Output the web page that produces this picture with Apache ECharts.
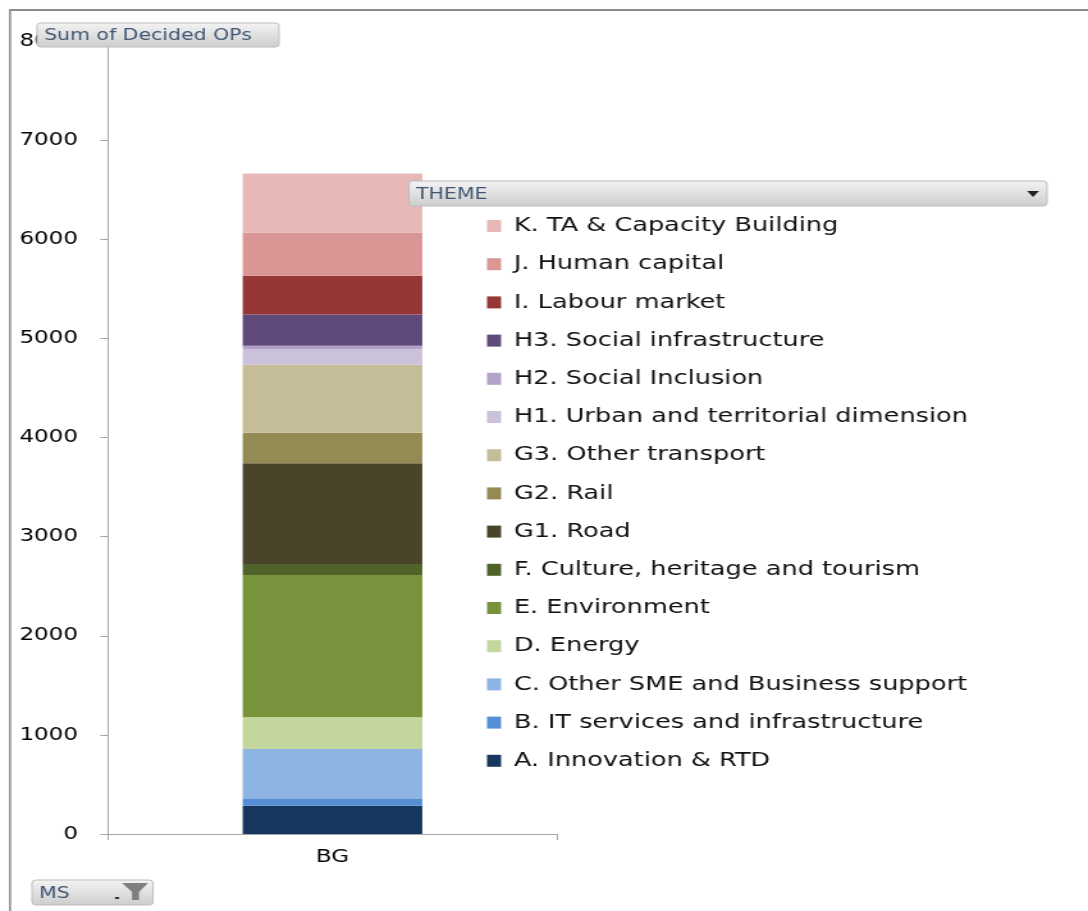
<!DOCTYPE html>
<html><head><meta charset="utf-8">
<script src="https://cdn.jsdelivr.net/npm/echarts@6/dist/echarts.min.js"></script>
<style>html,body{margin:0;padding:0;background:#fff;overflow:hidden}
#c{width:850px;height:911px;transform:scaleX(1.28);transform-origin:0 0}</style>
</head><body><div id="c"></div>
<script>
const categories = ['BG'];
const themes = [
  'A. Innovation & RTD',
  'B. IT services and infrastructure',
  'C. Other SME and Business support',
  'D. Energy',
  'E. Environment',
  'F. Culture, heritage and tourism',
  'G1. Road',
  'G2. Rail',
  'G3. Other transport',
  'H1. Urban and territorial dimension',
  'H2. Social Inclusion',
  'H3. Social infrastructure',
  'I. Labour market',
  'J. Human capital',
  'K. TA & Capacity Building'
];
const values = [285, 68, 504, 320, 1436, 110, 1016, 309, 686, 158, 34, 316, 390, 437, 595];
const colors = ['#17375E','#558ED5','#8DB4E2','#C3D69B','#77933C','#4F6228','#4A452A','#948A54','#C4BD97','#CCC1DA','#B3A2C7','#604A7B','#953735','#D99694','#E6B9B8'];
const yTicks = {min: 0, max: 8000, interval: 1000};

const S = 1.28; // horizontal stretch of the whole picture
const X = v => v / S;
const FONT = 'DejaVu Sans';
const btnFill = {type:'linear',x:0,y:0,x2:0,y2:1,colorStops:[{offset:0,color:'#F4F4F4'},{offset:1,color:'#CDCDCD'}]};
function button(x,y,w,h,label){
  return [
    {type:'rect', z:100, shape:{x:X(x),y:y,width:X(w),height:h,r:3}, style:{fill:btnFill, stroke:'#BDBDBD', lineWidth:1}},
    {type:'text', z:101, style:{x:X(x+7),y:y+h/2+1,text:label,fill:'#3F5673',font:'16px "'+FONT+'"',textVerticalAlign:'middle'}}
  ];
}
const chart = echarts.init(document.getElementById('c'));
const series = themes.map((t,i)=>({
  name:t, type:'bar', stack:'total', barWidth:'40%',
  itemStyle:{color:colors[i]},
  data:[values[i]]
}));
chart.setOption({
  animation:false,
  backgroundColor:'#fff',
  color: colors,
  grid:{left:X(108), top:41, right:850 - X(557), bottom:77, containLabel:false},
  xAxis:{type:'category', data:categories,
    axisLine:{lineStyle:{color:'#A6A6A6'}},
    axisTick:{show:true, length:6, lineStyle:{color:'#A6A6A6'}},
    axisLabel:{color:'#000', fontFamily:FONT, fontSize:18, margin:14}},
  yAxis:{type:'value', min:yTicks.min, max:yTicks.max, interval:yTicks.interval,
    axisLine:{show:true, lineStyle:{color:'#A6A6A6'}},
    axisTick:{show:true, length:6, lineStyle:{color:'#A6A6A6'}},
    splitLine:{show:false},
    axisLabel:{color:'#000', fontFamily:FONT, fontSize:18, margin:X(30), formatter: v => String(v)}},
  legend:{orient:'vertical', left:X(487), top:216, padding:0, itemWidth:11, itemHeight:12, itemGap:18.2,
    icon:'rect', data: themes.slice().reverse(),
    textStyle:{color:'#111', fontFamily:FONT, fontSize:20, lineHeight:20, padding:[0,0,0,5]}},
  series: series,
  graphic: [
    {type:'line', z:90, shape:{x1:X(10),y1:9,x2:X(10),y2:911}, style:{stroke:'#8C8C8C', lineWidth:1.6}},
    {type:'line', z:90, shape:{x1:X(9),y1:10,x2:850,y2:10}, style:{stroke:'#8C8C8C', lineWidth:2}},
    ...button(37,23,242,24,'Sum of Decided OPs'),
    ...button(409,181,638,25,'THEME'),
    {type:'polygon', z:102, shape:{points:[[X(1027),191],[X(1039),191],[X(1033),197]]}, style:{fill:'#222'}},
    ...button(32,880,121,25,'MS'),
    {type:'rect', z:102, shape:{x:X(115),y:897,width:X(4),height:2}, style:{fill:'#333'}},
    {type:'polygon', z:102, shape:{points:[[X(122),883],[X(148),883],[X(139),892],[X(139),900],[X(132),900],[X(132),892]]}, style:{fill:'#7F7F7F'}}
  ]
});
</script></body></html>
